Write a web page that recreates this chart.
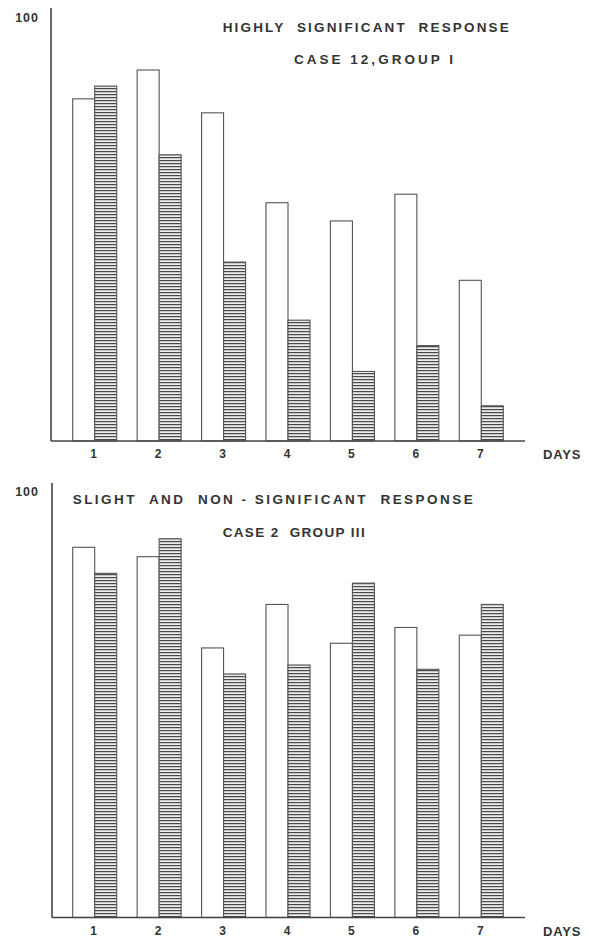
<!DOCTYPE html>
<html>
<head>
<meta charset="utf-8">
<script src="https://cdn.jsdelivr.net/npm/d3@7"></script>
<style>
  body { margin: 0; background: #fff; }
  text { font-family: 'Liberation Sans', 'DejaVu Sans', sans-serif; font-weight: bold; fill: #333; }
</style>
</head>
<body>
<div id="chart"></div>
<script>
// values (percent of the 100 mark)
let days = ['1', '2', '3', '4', '5', '6', '7']
let seriesKeys = ['plain', 'hatched']
let highlyPlain = [80.7, 87.5, 77.4, 56.2, 51.9, 58.2, 37.9]
let highlyHatched = [83.7, 67.5, 42.2, 28.5, 16.4, 22.5, 8.3]
let slightPlain = [86.8, 84.6, 63.2, 73.4, 64.3, 68.0, 66.2]
let slightHatched = [80.7, 88.8, 57.1, 59.2, 78.4, 58.2, 73.4]
let highlyTitle = ['HIGHLY  SIGNIFICANT  RESPONSE', 'CASE 12,GROUP I']
let slightTitle = ['SLIGHT  AND  NON - SIGNIFICANT  RESPONSE', 'CASE 2  GROUP III']
let topLabel = '100'
let xLabel = 'DAYS'

let width = 589
let height = 938

let svg = d3
  .select('#chart')
  .append('svg')
  .attr('width', width)
  .attr('height', height)

// horizontal hatching for the second series
let pattern = svg
  .append('defs')
  .append('pattern')
  .attr('id', 'hatch')
  .attr('patternUnits', 'userSpaceOnUse')
  .attr('width', 6)
  .attr('height', 3)
pattern
  .append('rect')
  .attr('width', 6)
  .attr('height', 3)
  .attr('fill', '#fff')
pattern
  .append('rect')
  .attr('y', 0.9)
  .attr('width', 6)
  .attr('height', 1.4)
  .attr('fill', '#4a4a4a')

let xPositionScale = d3
  .scaleBand()
  .domain(days)
  .range([72.7, 503.3])
  .paddingInner(0.317)
  .paddingOuter(0)

let seriesScale = d3
  .scaleBand()
  .domain(seriesKeys)
  .range([0, xPositionScale.bandwidth()])

let panels = [
  { plain: highlyPlain, hatched: highlyHatched, title: highlyTitle,
    base: 441, top: 17, axisTop: 8, axisX: 51,
    titleX: [222.7, 294], titleY: [32, 64], titleW: [286, 159],
    labelY: 458, topLabelY: 22 },
  { plain: slightPlain, hatched: slightHatched, title: slightTitle,
    base: 917.5, top: 491, axisTop: 483, axisX: 52,
    titleX: [72.7, 222.7], titleY: [504, 537], titleW: [400, 142],
    labelY: 935, topLabelY: 495.5 }
]

panels.forEach(p => {
  let yPositionScale = d3
    .scaleLinear()
    .domain([0, 100])
    .range([p.base, p.top])

  let g = svg.append('g')

  let rows = days.map((d, i) => ({ day: d, plain: p.plain[i], hatched: p.hatched[i] }))

  let pairs = g
    .selectAll('.day')
    .data(rows)
    .enter()
    .append('g')
    .attr('class', 'day')
    .attr('transform', d => 'translate(' + xPositionScale(d.day) + ',0)')

  pairs
    .selectAll('rect')
    .data(d => seriesKeys.map(k => ({ key: k, value: d[k] })))
    .enter()
    .append('rect')
    .attr('x', d => seriesScale(d.key))
    .attr('y', d => yPositionScale(d.value))
    .attr('width', seriesScale.bandwidth())
    .attr('height', d => yPositionScale(0) - yPositionScale(d.value))
    .attr('fill', d => (d.key === 'hatched' ? 'url(#hatch)' : '#fff'))
    .attr('stroke', '#555')
    .attr('stroke-width', 1.1)

  // axes drawn as plain lines like the original
  g.append('line')
    .attr('x1', p.axisX)
    .attr('x2', p.axisX)
    .attr('y1', p.axisTop)
    .attr('y2', p.base)
    .attr('stroke', '#444')
    .attr('stroke-width', 1.6)

  g.append('line')
    .attr('x1', p.axisX)
    .attr('x2', 525)
    .attr('y1', p.base)
    .attr('y2', p.base)
    .attr('stroke', '#444')
    .attr('stroke-width', 1.6)

  g.selectAll('.day-label')
    .data(days)
    .enter()
    .append('text')
    .attr('class', 'day-label')
    .attr('x', d => xPositionScale(d) + xPositionScale.bandwidth() / 2 - 1)
    .attr('y', p.labelY)
    .attr('text-anchor', 'middle')
    .attr('font-size', 12)
    .text(d => d)

  g.append('text')
    .attr('x', 543)
    .attr('y', p.labelY + 1)
    .attr('font-size', 13)
    .attr('letter-spacing', 0.8)
    .text(xLabel)

  g.append('text')
    .attr('x', 39)
    .attr('y', p.topLabelY)
    .attr('text-anchor', 'end')
    .attr('font-size', 12.5)
    .attr('letter-spacing', 1)
    .text(topLabel)

  g.selectAll('.title')
    .data(p.title)
    .enter()
    .append('text')
    .attr('class', 'title')
    .attr('x', (d, i) => p.titleX[i])
    .attr('y', (d, i) => p.titleY[i])
    .attr('font-size', 13.5)
    .attr('textLength', (d, i) => p.titleW[i])
    .attr('lengthAdjust', 'spacing')
    .style('white-space', 'pre')
    .text(d => d)
})
</script>
</body>
</html>
